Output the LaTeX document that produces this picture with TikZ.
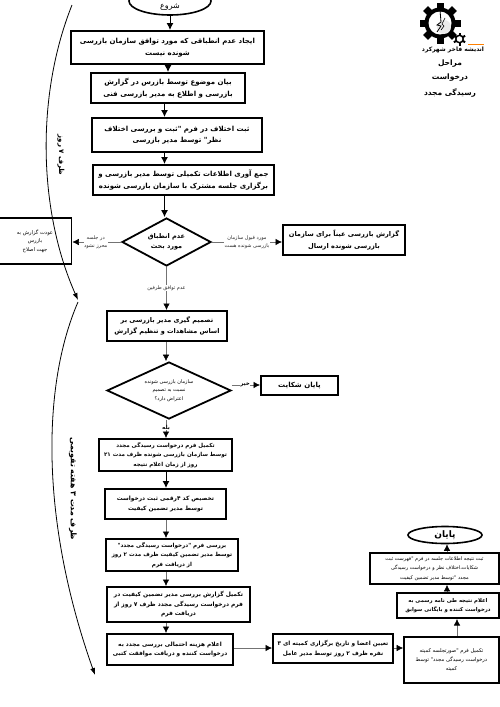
\documentclass[tikz,border=0pt]{standalone}
\usepackage{fontspec}
\usetikzlibrary{arrows.meta,shapes.geometric}
\TeXXeTstate=1
\newfontfamily\fafont[Script=Arabic]{DejaVu Sans}
\newcommand{\rl}[1]{\beginR #1\endR}
\tikzset{
  x=1pt,y=-1pt,
  pbox/.style={draw=black,line width=2pt,fill=white,inner sep=0pt,align=center,font=\fafont\bfseries\fontsize{7}{11.5}\selectfont},
  lbox/.style={pbox,line width=1.7pt,font=\fafont\fontsize{6.2}{9.5}\selectfont},
  mbox/.style={pbox,font=\fafont\bfseries\fontsize{#1}{9.5}\selectfont},
  capsule/.style={ellipse,draw=black,line width=1.6pt,fill=white,inner sep=0pt,font=\fafont\fontsize{8}{10}\selectfont},
  decbox/.style={diamond,aspect=1.8,draw=black,line width=1.8pt,fill=white,inner sep=0pt,align=center},
  conn/.style={draw=black,line width=1pt,-{Latex[length=7pt,width=7pt]}},
  thin conn/.style={draw=black!55,line width=0.6pt,-{Latex[length=6.5pt,width=6.5pt,black]}},
  elabel/.style={inner sep=0.5pt,align=center,text=black!85,font=\fafont\fontsize{5}{8}\selectfont},
  timearc/.style={draw=black,line width=0.8pt},
  sidetext/.style={rotate=-90,inner sep=0pt,font=\fafont\bfseries\fontsize{#1}{8}\selectfont},
  headtext/.style={inner sep=0pt,font=\fafont\bfseries\fontsize{7.5}{9}\selectfont},
}
\begin{document}
\begin{tikzpicture}
\path[use as bounding box,clip] (0,0) rectangle (500,707);
\fill[white] (0,0) rectangle (500,707);
% connector columns
\coordinate (c1) at (168,0);
\coordinate (c2) at (164.5,0);
\coordinate (c3) at (166,0);
\coordinate (r2) at (0,385);
\coordinate (r3) at (0,648);
\coordinate (e1) at (457,0);
\coordinate (e2) at (447,0);

\node[capsule,minimum width=82pt,minimum height=28pt] (start) at (170,1) {\raisebox{-7pt}[0pt][0pt]{\rl{شروع}}};
\node[pbox,minimum width=193pt,minimum height=33pt] (b1) at (167.5,47.5) {\rl{ایجاد عدم انطباقی که مورد توافق سازمان بازرسی}\\\rl{شونده نیست}};
\node[pbox,minimum width=154pt,minimum height=30pt] (b2) at (168,88) {\rl{بیان موضوع توسط بازرس در گزارش}\\\rl{بازرسی و اطلاع به مدیر بازرسی فنی}};
\node[pbox,minimum width=170pt,minimum height=34pt] (b3) at (177,135) {\rl{ثبت اختلاف در فرم "ثبت و بررسی اختلاف}\\\rl{نظر" توسط مدیر بازرسی}};
\node[pbox,minimum width=181pt,minimum height=30pt] (b4) at (183.5,180) {\rl{جمع آوری اطلاعات تکمیلی توسط مدیر بازرسی و}\\\rl{برگزاری جلسه مشترک با سازمان بازرسی شونده}};
\node[decbox,minimum width=89pt,minimum height=48pt,font=\fafont\bfseries\fontsize{6.5}{10.5}\selectfont] (d1) at (166.5,242) {\rl{عدم انطباق}\\\rl{مورد بحث}};
\node[lbox,minimum width=73pt,minimum height=46pt,font=\fafont\fontsize{5.2}{8.5}\selectfont] (ret) at (35,241) {\rl{عودت گزارش به}\\\rl{بازرس}\\\rl{جهت اصلاح}};
\node[pbox,minimum width=122pt,minimum height=30pt,font=\fafont\bfseries\fontsize{6.6}{11.5}\selectfont] (send) at (344,240) {\rl{گزارش بازرسی عیناً برای سازمان}\\\rl{بازرسی شونده ارسال}};
\node[pbox,minimum width=120pt,minimum height=30pt,font=\fafont\bfseries\fontsize{6.5}{11.5}\selectfont] (b5) at (167,326) {\rl{تصمیم گیری مدیر بازرسی بر}\\\rl{اساس مشاهدات و تنظیم گزارش}};
\node[decbox,minimum width=124pt,minimum height=57pt,font=\fafont\fontsize{5}{8.5}\selectfont] (d2) at (169,390.5) {\rl{سازمان بازرسی شونده}\\\rl{نسبت به تصمیم}\\\rl{اعتراض دارد؟}};
\node[pbox,minimum width=77pt,minimum height=19pt] (endc) at (299.5,385.5) {\rl{پایان شکایت}};
\node[mbox=5.55,minimum width=133pt,minimum height=32pt] (b6) at (165.5,455) {\rl{تکمیل فرم درخواست رسیدگی مجدد}\\\rl{توسط سازمان بازرسی شونده ظرف مدت ۲۱}\\\rl{روز از زمان اعلام نتیجه}};
\node[mbox=5.85,minimum width=121pt,minimum height=30pt] (b7) at (165.5,504) {\rl{تخصیص کد ۴رقمی ثبت درخواست}\\\rl{توسط مدیر تضمین کیفیت}};
\node[mbox=5.6,minimum width=132pt,minimum height=32pt] (b8) at (172,555) {\rl{بررسی فرم "درخواست رسیدگی مجدد"}\\\rl{توسط مدیر تضمین کیفیت ظرف مدت ۲ روز}\\\rl{از دریافت فرم}};
\node[mbox=5.9,minimum width=143pt,minimum height=35pt] (b9) at (178.5,604.5) {\rl{تکمیل گزارش بررسی مدیر تضمین کیفیت در}\\\rl{فرم درخواست رسیدگی مجدد ظرف ۷ روز از}\\\rl{دریافت فرم}};
\node[mbox=5.8,minimum width=126pt,minimum height=31pt] (b10) at (170,649.5) {\rl{اعلام هزینه احتمالی بررسی مجدد به}\\\rl{درخواست کننده و دریافت موافقت کتبی}};
\node[mbox=5.8,minimum width=120pt,minimum height=29pt] (b11) at (333,648.5) {\rl{تعیین اعضا و تاریخ برگزاری کمیته ای ۳}\\\rl{نفره ظرف ۲ روز توسط مدیر عامل}};
\node[lbox,minimum width=95pt,minimum height=46pt,font=\fafont\fontsize{5.2}{9}\selectfont] (b12) at (451.5,660) {\rl{تکمیل فرم "صورتجلسه کمیته}\\\rl{درخواست رسیدگی مجدد" توسط}\\\rl{کمیته}};
\node[mbox=5.3,minimum width=102pt,minimum height=25pt] (b13) at (448,605.5) {\rl{اعلام نتیجه طی نامه رسمی به}\\\rl{درخواست کننده و بایگانی سوابق}};
\node[lbox,minimum width=129pt,minimum height=31pt,font=\fafont\fontsize{5}{9.5}\selectfont] (b14) at (434.5,568.5) {\rl{ثبت نتیجه اطلاعات جلسه در فرم "فهرست ثبت}\\\rl{شکایات،اختلاف نظر و درخواست رسیدگی}\\\rl{مجدد "توسط مدیر تضمین کیفیت}};
\node[capsule,minimum width=74pt,minimum height=17pt,font=\fafont\bfseries\fontsize{9}{11}\selectfont] (endn) at (445,535) {\rl{پایان}};

% vertical flow
\draw[conn] (start.south) -- (b1.north -| start.south);
\draw[conn] (b1.south -| c1) -- (b2.north -| c1);
\draw[conn] (b2.south -| c2) -- (b3.north -| c2);
\draw[conn] (b3.south -| c2) -- (b4.north -| c2);
\draw[conn] (b4.south -| c2) -- (d1.north -| c2);
\draw[thin conn] (d1.south) -- (b5.north -| d1.south) node[pos=.5,fill=white,elabel] (l3) {\rl{عدم توافق طرفین}};
\draw[thin conn] (b5.south -| c3) -- (d2.north -| c3);
\draw[thin conn] (d2.south -| c3) -- (b6.north -| c3) node[pos=.42,fill=white,inner sep=0.3pt,font=\fafont\bfseries\fontsize{5.5}{7}\selectfont] (l4) {\rl{بله}};
\draw[conn] (b6.south -| c3) -- (b7.north -| c3);
\draw[thin conn] (b7.south -| c3) -- (b8.north -| c3);
\draw[thin conn] (b8.south -| c3) -- (b9.north -| c3);
\draw[thin conn] (b9.south -| c3) -- (b10.north -| c3);
% horizontal flow
\draw[thin conn] (d1.west) -- (ret.east |- d1.west) node[pos=.52,fill=white,elabel] (l1) {\rl{در جلسه}\\\rl{محرز نشود}};
\draw[thin conn] (d1.east) -- (send.west |- d1.east) node[pos=.5,fill=white,elabel] (l2) {\rl{مورد قبول سازمان}\\\rl{بازرسی شونده هست}};
\draw[thin conn] (d2.east |- r2) -- (endc.west |- r2) node[pos=.47,fill=white,inner sep=0.5pt,font=\fafont\bfseries\fontsize{5.5}{7}\selectfont] (l5) {\rl{خیر}};
\draw[thin conn] (b10.east |- r3) -- (b11.west |- r3);
\draw[thin conn] (b11.east |- r3) -- (b12.west |- r3);
\draw[thin conn] (b12.north -| e1) -- (b13.south -| e1);
\draw[thin conn] (b13.north -| e2) -- (b14.south -| e2);
\draw[thin conn] (b14.north -| e2) -- (endn.south -| e2);

% time arcs
\draw[timearc,-{Latex[length=7pt,width=5pt]}] (72,5) .. controls (36,95) and (38,210) .. (78,300);
\draw[timearc,-{Latex[length=7pt,width=5pt]}] (78,302) .. controls (42,385) and (40,520) .. (95,675);
\node[sidetext=7] (t1) at (61,155) {\rl{ظرف ۷ روز}};
\node[sidetext=7.8] (t2) at (73,489) {\rl{ظرف مدت ۳ هفته تقویمی}};

% logo
\fill[black] (440,23) circle (15.5);
\foreach \a in {0,45,...,315}{
  \fill[black,rotate around={\a:(440,23)}] (436.5,2.5) rectangle (443.5,12);
}
\fill[white] (440,23) circle (11.5);
\fill[black!8] (444,27) circle (7);
\draw[black,line width=0.8pt] (440,10) -- (441,22) -- (437,25) -- (441,26) -- (437,32);
\draw[black,line width=0.6pt] (445,18) -- (442,24) -- (444,26) -- (441,30);
\fill[black] (459.5,39) circle (4.5);
\foreach \a in {0,60,...,300}{
  \fill[black,rotate around={\a:(459.5,39)}] (458.5,32.5) rectangle (460.5,36);
}
\fill[white] (459.5,39) circle (2.8);
\fill[orange] (468,43.5) rectangle (484,44.5);
\node[headtext,font=\fafont\bfseries\fontsize{6}{7}\selectfont] (brand) at (453,50) {\rl{اندیشه فاخر شهرکرد}};
\node[headtext] (h1) at (450,63.5) {\rl{مراحل}};
\node[headtext] (h2) at (450,77.5) {\rl{درخواست}};
\node[headtext] (h3) at (450,93) {\rl{رسیدگی مجدد}};
\end{tikzpicture}
\end{document}
